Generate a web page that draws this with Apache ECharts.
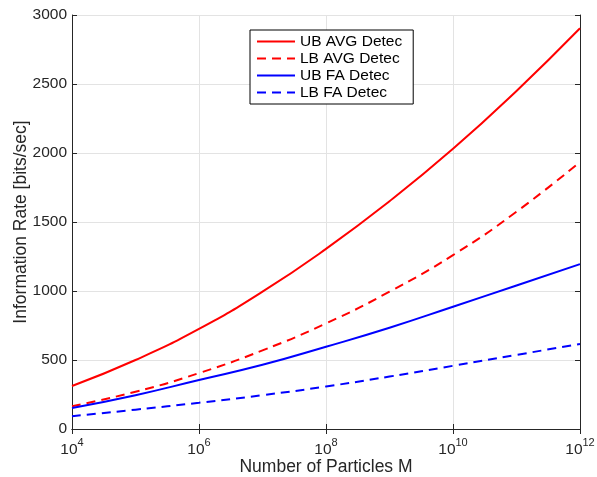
<!DOCTYPE html>
<html>
<head>
<meta charset="utf-8">
<script src="https://cdn.jsdelivr.net/npm/echarts@6/dist/echarts.min.js"></script>
<style>html,body{margin:0;padding:0;background:#fff}#c{width:597px;height:477px}</style>
</head>
<body>
<div id="c"></div>
<script>
// log10 of number of particles M
const exponents = [4, 5, 6, 7, 8, 9, 10, 11, 12];
const ubAvg = [312, 500, 725, 995, 1305, 1650, 2030, 2450, 2904];
const lbAvg = [165, 270, 405, 570, 765, 995, 1260, 1575, 1935];
const ubFa  = [152, 245, 355, 465, 596, 734, 886, 1040, 1195];
const lbFa  = [93, 140, 190, 245, 308, 380, 458, 537, 616];
const seriesNames = ['UB AVG Detec', 'LB AVG Detec', 'UB FA Detec', 'LB FA Detec'];
const yTicks = [0, 500, 1000, 1500, 2000, 2500, 3000];

const font = 'Liberation Sans, Arial, Helvetica, sans-serif';
const pair = arr => exponents.map((e, i) => [e, arr[i]]);

const chart = echarts.init(document.getElementById('c'), null, {renderer: 'canvas'});
const axisLine = {show: true, lineStyle: {color: '#262626', width: 1}};
const mkSeries = (name, data, color, dashed) => ({
  name, type: 'line', data: pair(data), smooth: true, symbol: 'none',
  lineStyle: {color, width: 2, type: dashed ? [9, 6] : 'solid'},
  itemStyle: {color}
});
chart.setOption({
  animation: false,
  textStyle: {fontFamily: font},
  grid: {left: 72, right: 17, top: 15, bottom: 48, containLabel: false, outerBoundsMode: 'none'},
  legend: {
    orient: 'vertical', left: 250, top: 30,
    data: seriesNames,
    itemWidth: 38, itemHeight: 14, itemGap: 0,
    padding: [3, 11, 3, 6],
    itemStyle: {opacity: 0},
    borderColor: '#000', borderWidth: 1, backgroundColor: '#fff',
    textStyle: {fontFamily: font, fontSize: 15.5, lineHeight: 17, color: '#000'}
  },
  xAxis: [{
    type: 'value', min: 4, max: 12, interval: 2,
    name: 'Number of Particles M', nameLocation: 'middle', nameGap: 29, nameMoveOverlap: false,
    nameTextStyle: {fontFamily: font, fontSize: 17.5, color: '#262626'},
    axisLine, axisTick: {inside: true, length: 5, lineStyle: {color: '#262626'}},
    splitLine: {show: true, lineStyle: {color: '#e3e3e3', width: 1}},
    axisLabel: {
      margin: 8, color: '#262626',
      formatter: v => '{b|10}{s|' + v + '}',
      rich: {b: {fontSize: 15.5, fontFamily: font, color: '#262626', verticalAlign: 'bottom'},
             s: {fontSize: 11, fontFamily: font, color: '#262626', verticalAlign: 'top', padding: [0, 0, 10, 0]}}
    }
  }, {
    type: 'value', min: 4, max: 12, interval: 2, position: 'top',
    axisLine, axisTick: {inside: true, length: 5, lineStyle: {color: '#262626'}},
    axisLabel: {show: false}, splitLine: {show: false}
  }],
  yAxis: [{
    type: 'value', min: 0, max: 3000, interval: 500,
    name: 'Information Rate [bits/sec]', nameLocation: 'middle', nameGap: 42, nameMoveOverlap: false,
    nameTextStyle: {fontFamily: font, fontSize: 17.5, color: '#262626'},
    axisLine, axisTick: {inside: true, length: 5, lineStyle: {color: '#262626'}},
    splitLine: {show: true, lineStyle: {color: '#e3e3e3', width: 1}},
    axisLabel: {fontSize: 15.5, fontFamily: font, color: '#262626', margin: 5,
      formatter: v => yTicks.includes(v) ? String(v) : ''}
  }, {
    type: 'value', min: 0, max: 3000, interval: 500, position: 'right',
    axisLine, axisTick: {inside: true, length: 5, lineStyle: {color: '#262626'}},
    axisLabel: {show: false}, splitLine: {show: false}
  }],
  series: [
    mkSeries(seriesNames[0], ubAvg, '#ff0000', false),
    mkSeries(seriesNames[1], lbAvg, '#ff0000', true),
    mkSeries(seriesNames[2], ubFa, '#0000ff', false),
    mkSeries(seriesNames[3], lbFa, '#0000ff', true)
  ]
});
</script>
</body>
</html>
